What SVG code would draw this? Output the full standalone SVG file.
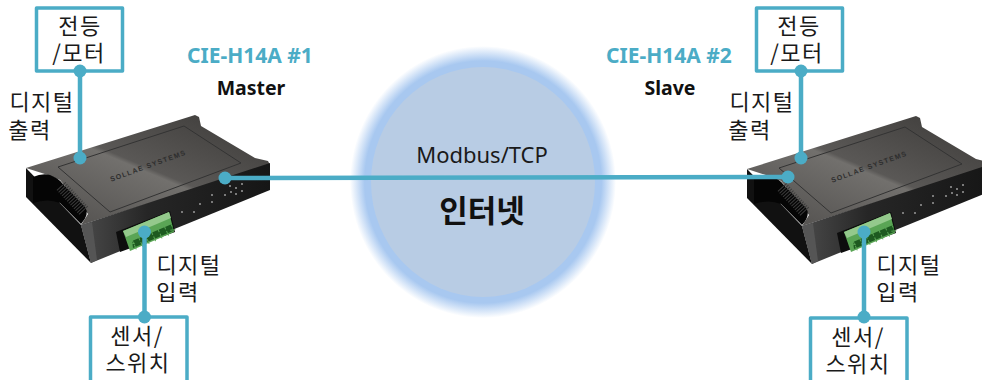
<svg xmlns="http://www.w3.org/2000/svg" width="982" height="380" viewBox="0 0 982 380">
<style>
text{font-family:"Noto Sans CJK KR","Noto Sans",sans-serif;fill:#1a1a1a;text-anchor:middle}
.l{font-size:22px;letter-spacing:1.500px}
.t{font-family:"Noto Sans","Noto Sans CJK KR",sans-serif;font-size:21px;font-weight:700;fill:#4bacc6}
.m{font-family:"Noto Sans","Noto Sans CJK KR",sans-serif;font-size:19.500px;font-weight:700;fill:#111}
.box{fill:#fff;stroke:#4bacc6;stroke-width:3.500;stroke-linejoin:round}
.c{fill:none;stroke:#4bacc6;stroke-width:4.500}
.d{fill:#4bacc6}
.hole{fill:#7a7a7a}
.brand{font-family:"Liberation Sans",sans-serif;font-size:7px;font-weight:700;letter-spacing:1.200px;fill:#2e2e2e}
</style>
<defs>
<radialGradient id="glow" cx="50%" cy="50%" r="50%">
<stop offset="0.86" stop-color="#a8c8f0"/><stop offset="0.89" stop-color="#a8c8f0"/><stop offset="1" stop-color="#a8c8f0" stop-opacity="0"/>
</radialGradient>
<linearGradient id="top" x1="0.1" y1="0.9" x2="0.85" y2="0.1">
<stop offset="0" stop-color="#555351"/><stop offset="0.5" stop-color="#72706d"/><stop offset="0.53" stop-color="#5a5856"/><stop offset="1" stop-color="#43413f"/>
</linearGradient>
<linearGradient id="front" x1="0" y1="0.5" x2="1" y2="0.5">
<stop offset="0" stop-color="#4a4a4a"/><stop offset="0.35" stop-color="#262626"/><stop offset="1" stop-color="#161616"/>
</linearGradient>
<g id="device">
<path d="M26 168 L26 197 L91 263 L81 225 Z" fill="#111"/>
<path d="M26 168 L195 115 L199 117 L201 126 L255 158 L268 161 L270 165 L81 225 L88 214 L60 180 L48 175 L26 168 Z" fill="url(#top)"/>
<path d="M33 177 Q42 173 50 175 Q58 178 62 183 L85 207 Q90 214 81 224 L60 203 Q48 198 33 203 Z" fill="#050505"/>
<path d="M61 186 L84 211" fill="none" stroke="#3c3c3c" stroke-width="12" stroke-dasharray="1 1.500"/>
<path d="M81 225 L270 163 L270 190 L91 263 Z" fill="url(#front)"/>
<path d="M81 225 L91 263 L97 260 L92 222 Z" fill="#555"/>
<path d="M58 167 L184 126 L241 163 L110 212 Z" fill="none" stroke="#333" stroke-width="1"/>
<text class="brand" x="149" y="168" transform="rotate(-20 149 168)">SOLLAE SYSTEMS</text>
<path d="M116 232 L170 211 L175 232 L120 252 Z" fill="#0d0d0d"/>
<path d="M123 231 L169 212 L174 232 L130 251 Z" fill="#5aa555"/>
<path d="M123 231 L169 212 L171 218 L126 237 Z" fill="#94c98c"/>
<path d="M132 241 L172 224 L173 231 L133 248 Z" fill="#1d5a20" stroke="#5aa555" stroke-width="5" stroke-dasharray="1 6" paint-order="fill"/>
<g class="hole">
<rect x="181" y="211" width="2" height="2"/><rect x="193" y="211" width="2" height="2"/><rect x="199" y="203" width="2" height="2"/><rect x="211" y="201" width="2" height="2"/><rect x="211" y="194" width="2" height="2"/><rect x="224" y="194" width="2" height="2"/><rect x="230" y="191" width="2" height="2"/><rect x="235" y="193" width="2" height="2"/><rect x="241" y="190" width="2" height="2"/><rect x="229" y="185" width="2" height="2"/><rect x="235" y="187" width="2" height="2"/><rect x="241" y="183" width="2" height="2"/>
</g>
</g>
</defs>
<g id="internet">
<ellipse cx="483" cy="182" rx="133" ry="136" fill="url(#glow)"/>
<ellipse cx="483" cy="182" rx="112" ry="115" fill="#b8cce4"/>
<text x="482" y="163" style="font-family:'Noto Sans',sans-serif;font-size:22px">Modbus/TCP</text>
<text x="482" y="222" style="font-size:31px;font-weight:700;fill:#111">인터넷</text>
</g>
<g id="device-1"><use href="#device"/></g>
<g id="device-2"><use href="#device" transform="translate(721 1)"/></g>
<g id="lamp-1"><rect class="box" x="36.500" y="8" width="86" height="63"/><text class="l" x="80" y="34">전등</text><text class="l" x="79" y="61">/모터</text></g>
<g id="lamp-2"><rect class="box" x="756.500" y="8" width="86" height="63"/><text class="l" x="799" y="34">전등</text><text class="l" x="797" y="61">/모터</text></g>
<g id="sensor-1"><path class="box" d="M90.500 382V317H187V382"/><text class="l" x="137" y="344">센서/</text><text class="l" x="138" y="371">스위치</text></g>
<g id="sensor-2"><path class="box" d="M810.500 382V318H907V382"/><text class="l" x="858" y="345">센서/</text><text class="l" x="858" y="372">스위치</text></g>
<g id="connectors">
<path class="c" d="M80 71V158"/><path class="c" d="M225 178L787 177"/><path class="c" d="M144.500 232V317"/><path class="c" d="M801 71V158"/><path class="c" d="M864 232V318"/>
<g class="d"><circle cx="80" cy="71" r="6.500"/><circle cx="80" cy="158" r="6.500"/><circle cx="225" cy="178" r="6.500"/><circle cx="144.500" cy="232" r="6.500"/><circle cx="144.500" cy="317" r="6.500"/><circle cx="801" cy="71" r="6.500"/><circle cx="801" cy="158" r="6.500"/><circle cx="788" cy="177" r="6.500"/><circle cx="864" cy="232" r="6.500"/><circle cx="864" cy="317" r="6.500"/></g>
</g>
<g id="labels">
<text class="l" x="42" y="110">디지털</text><text class="l" x="30" y="138">출력</text>
<text class="l" x="762" y="110">디지털</text><text class="l" x="750" y="138">출력</text>
<text class="l" x="189" y="273">디지털</text><text class="l" x="178" y="300">입력</text>
<text class="l" x="909" y="273">디지털</text><text class="l" x="898" y="300">입력</text>
<text class="t" x="250" y="63">CIE-H14A #1</text><text class="m" x="251" y="95">Master</text>
<text class="t" x="669" y="63">CIE-H14A #2</text><text class="m" x="670" y="95">Slave</text>
</g>
</svg>
